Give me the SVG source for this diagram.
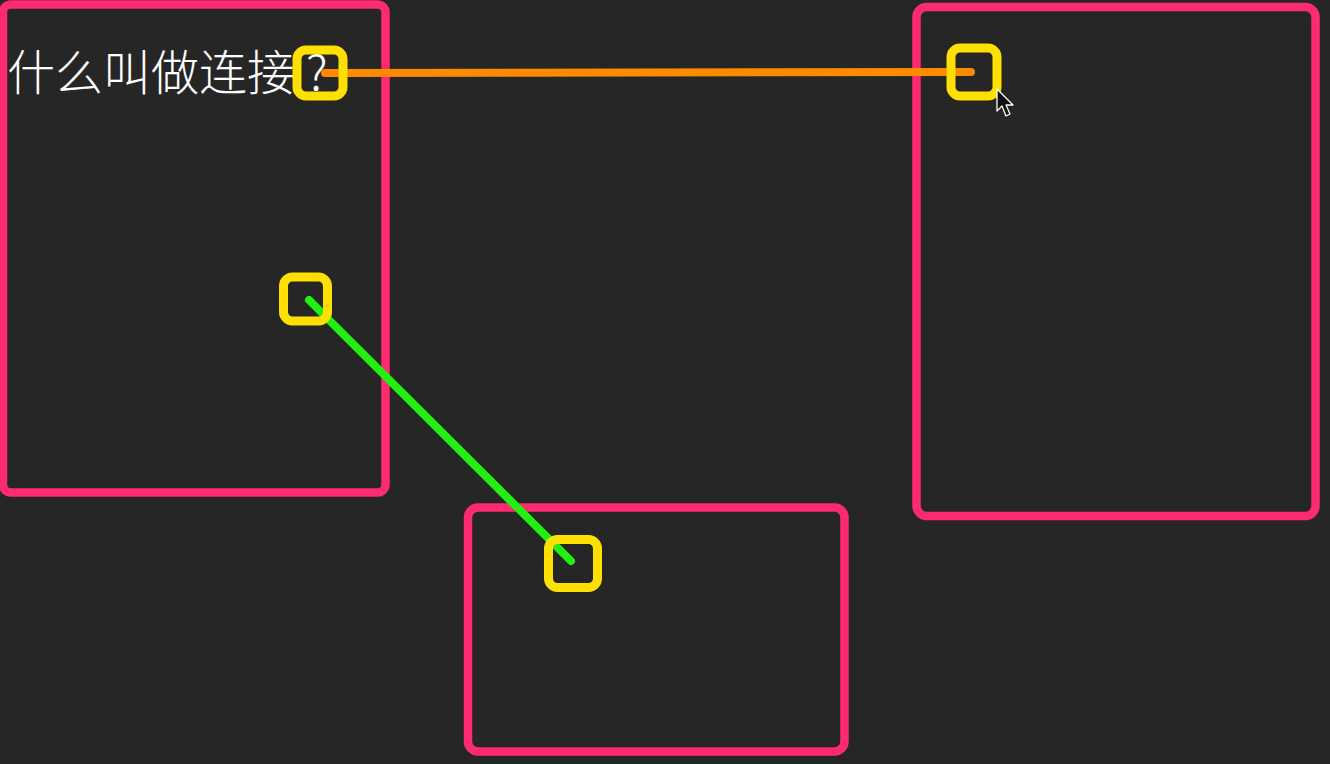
<svg xmlns="http://www.w3.org/2000/svg" width="1330" height="764" viewBox="0 0 1330 764">
<style>
.box{fill:none;stroke:#ff2a72;stroke-width:8.5}
.port{fill:none;stroke:#ffe000;stroke-width:9}
.wire{fill:none;stroke-width:8;stroke-linecap:round}
.label{font-family:"Noto Sans CJK SC","Noto Sans",sans-serif;font-weight:300;fill:#ffffff}
</style>
<rect width="1330" height="764" fill="#262626"/>
<g id="node-left">
<rect class="box" x="3" y="4.5" width="382.5" height="488" rx="8"/>
<text class="label" x="7" y="90" font-size="48">什么叫做连接<tspan x="306">?</tspan></text>
</g>
<g id="node-right">
<rect class="box" x="916.5" y="7" width="399" height="509" rx="10"/>
</g>
<g id="node-bottom">
<rect class="box" x="468" y="507.5" width="376.5" height="244" rx="10"/>
</g>
<g id="connectors">
<line class="wire" x1="325" y1="73" x2="971" y2="72" stroke="#ff8a00"/>
<line class="wire" x1="309" y1="300" x2="571" y2="561" stroke="#22f011"/>
</g>
<g id="ports">
<rect class="port" x="297" y="50" width="46" height="46" rx="9"/>
<rect class="port" x="283.5" y="277" width="44" height="44" rx="9"/>
<rect class="port" x="951" y="48" width="46" height="48" rx="9"/>
<rect class="port" x="548.5" y="539.5" width="49" height="48" rx="9"/>
</g>
<g id="cursor">
<polygon points="997,89 997,111 1002,106 1006,116 1010,114 1006,105 1013,105" fill="#111" stroke="#fff" stroke-width="1.3" stroke-linejoin="round"/>
</g>
</svg>
